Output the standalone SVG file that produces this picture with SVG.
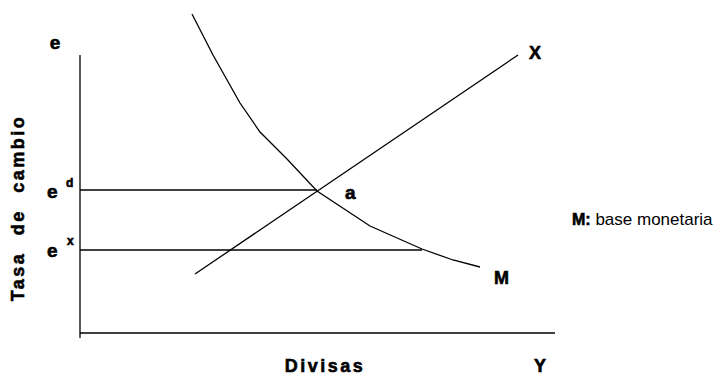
<svg xmlns="http://www.w3.org/2000/svg" width="725" height="376" viewBox="0 0 725 376">
<style>
.ln{fill:none;stroke:#000;stroke-width:1.3}
.b{font-family:"Liberation Sans",Arial,sans-serif;font-weight:bold;fill:#000;stroke:#000;stroke-width:0.6}
.r{font-family:"Liberation Sans",Arial,sans-serif;fill:#000}
</style>
<rect width="725" height="376" fill="#fff"/>
<g id="connectors">
<polyline class="ln" points="80,55 80,338"/>
<polyline class="ln" points="80,333 555,333"/>
<polyline class="ln" points="80,190 317,190"/>
<polyline class="ln" points="80,250 422,250"/>
<polyline class="ln" points="195,274 518,55"/>
<polyline class="ln" points="192,14 213,55 240,103 260,132 287,159 317,191 370,226 422,249 453,260 480,267"/>
</g>
<g id="axis-y-label"><text class="b" x="55" y="49" font-size="19" text-anchor="middle">e</text></g>
<g id="ed"><text class="b" x="47" y="198" font-size="19">e</text><text class="b" x="66" y="187" font-size="12">d</text></g>
<g id="ex"><text class="b" x="47" y="257" font-size="19">e</text><text class="b" x="67" y="245" font-size="12">x</text></g>
<g id="tasa"><text class="b" transform="translate(24,208) rotate(-90)" font-size="18" text-anchor="middle" letter-spacing="2.5" word-spacing="9">Tasa de cambio</text></g>
<g id="a"><text class="b" x="345" y="199" font-size="19">a</text></g>
<g id="X"><text class="b" x="529" y="59" font-size="18">X</text></g>
<g id="M"><text class="b" x="494" y="284" font-size="18">M</text></g>
<g id="Y"><text class="b" x="534" y="372" font-size="18">Y</text></g>
<g id="divisas"><text class="b" x="325" y="372" font-size="18" text-anchor="middle" letter-spacing="2.5">Divisas</text></g>
<g id="legend"><text x="572" y="225" font-size="17"><tspan class="b" font-size="16">M:</tspan><tspan class="r"> base monetaria</tspan></text></g>
</svg>
